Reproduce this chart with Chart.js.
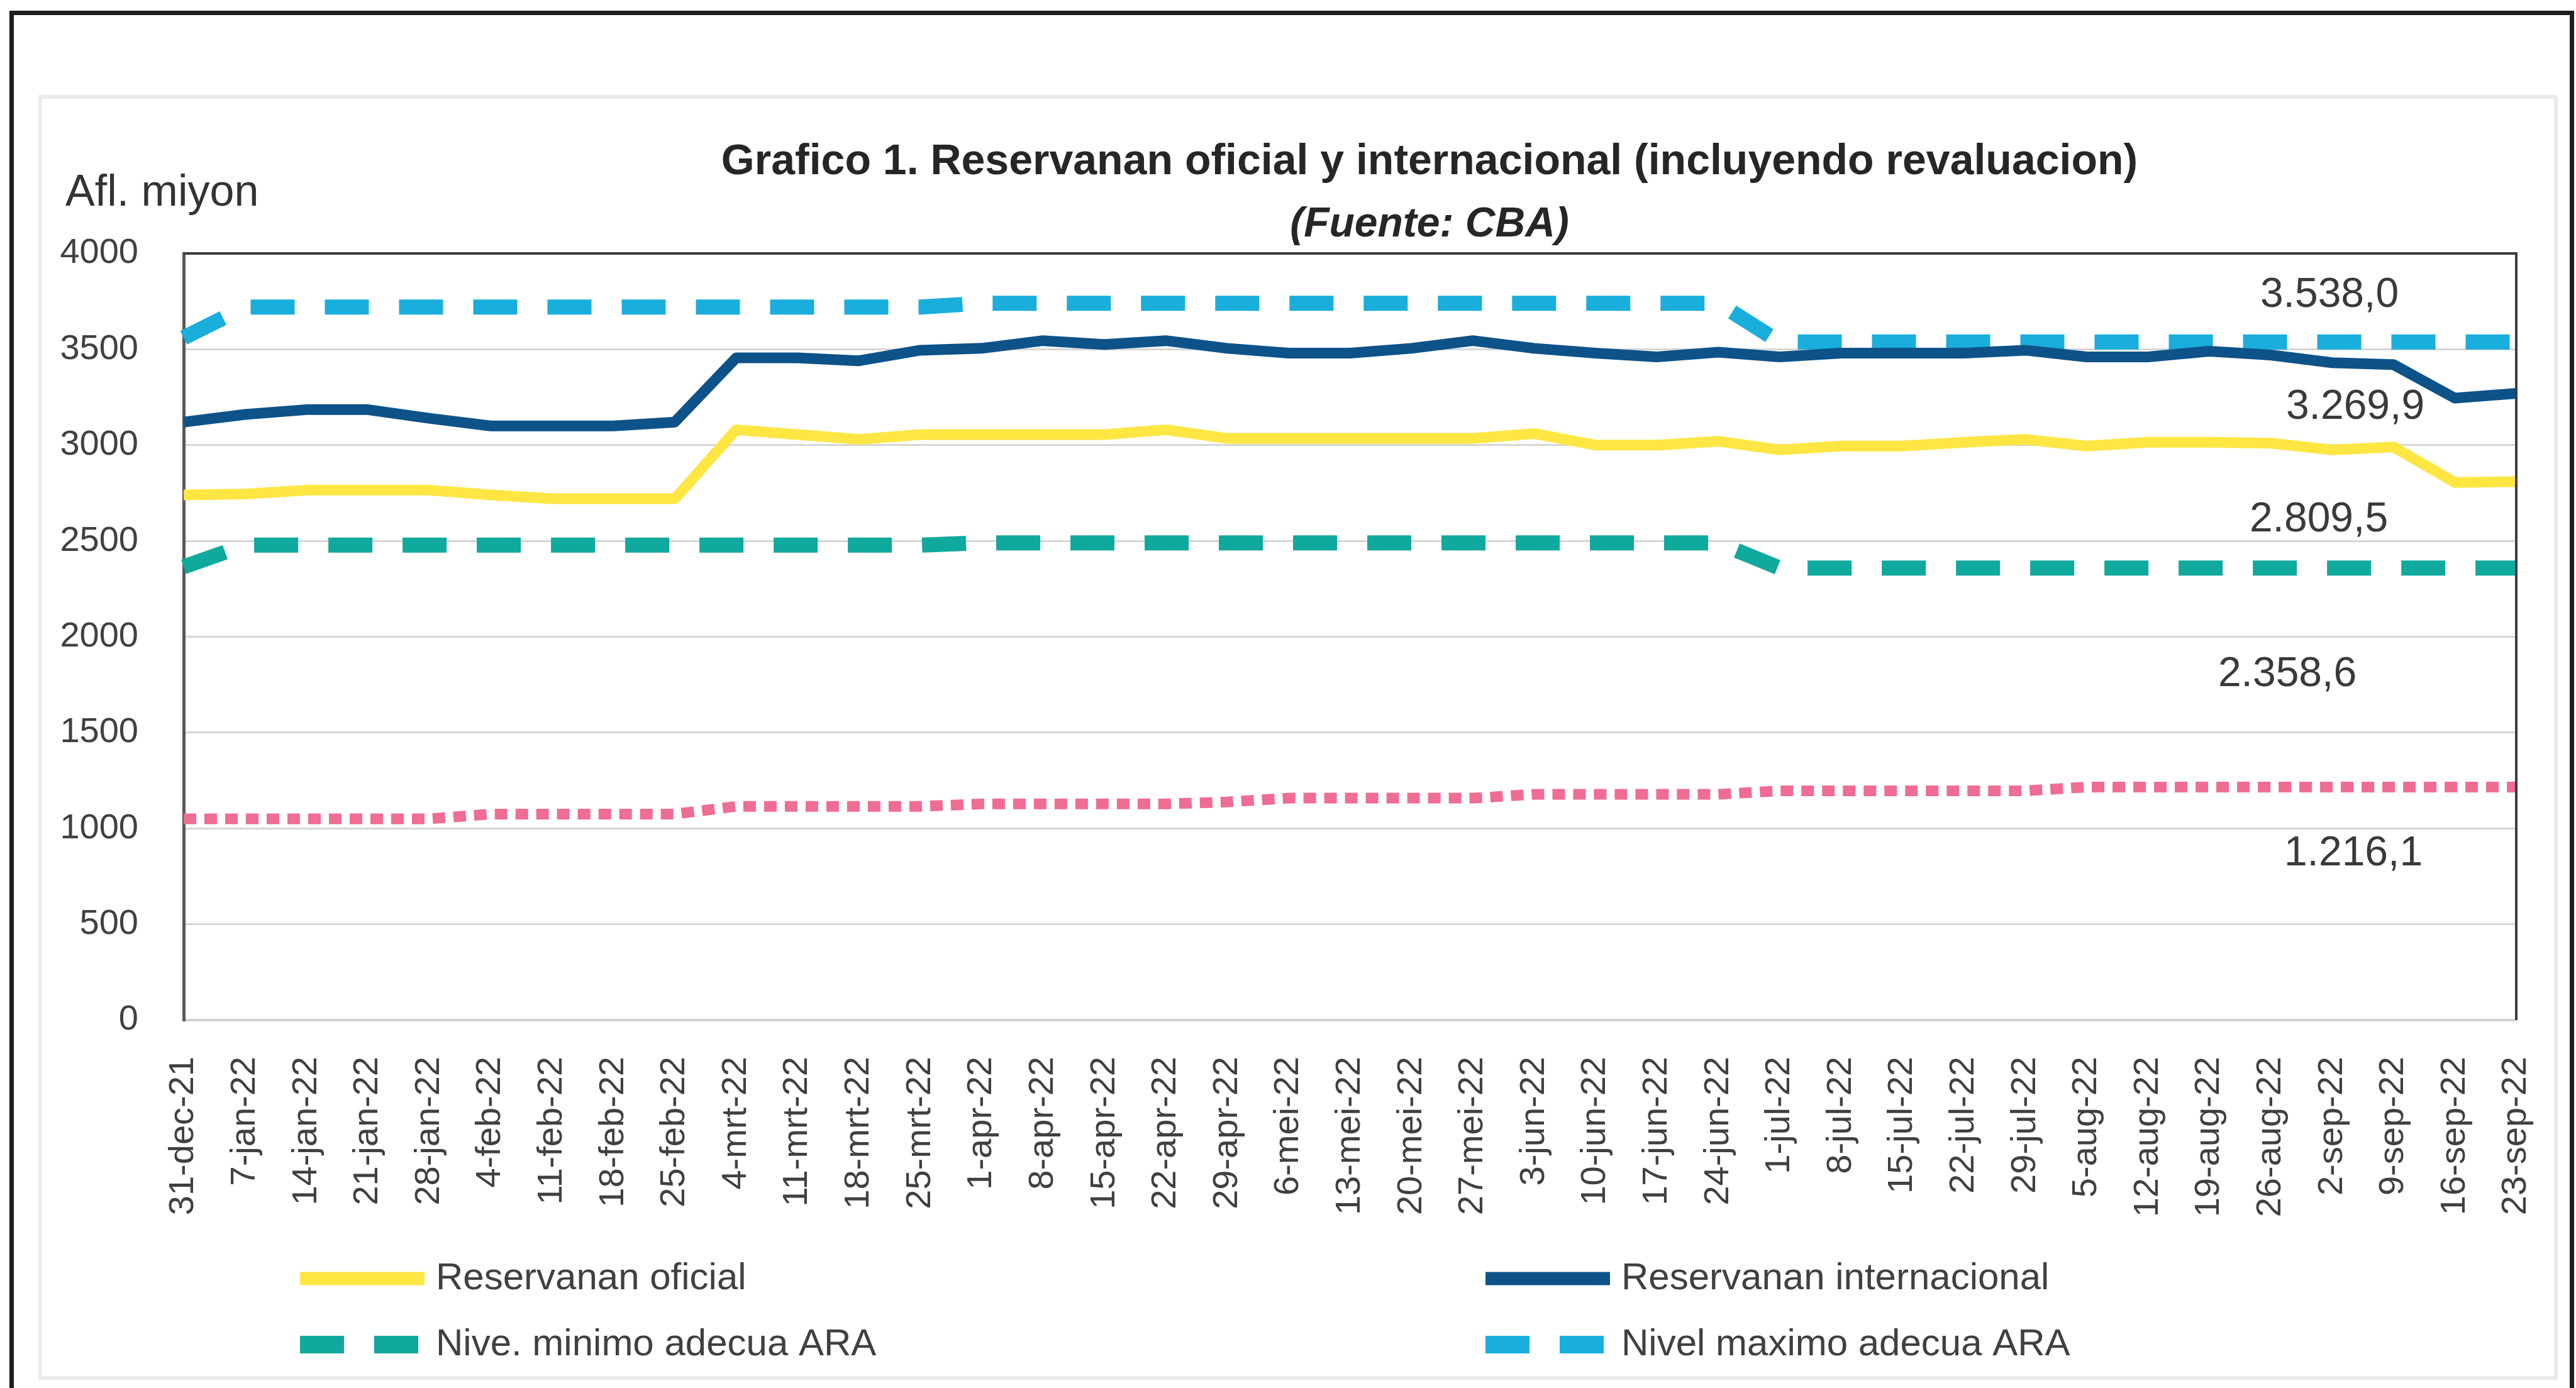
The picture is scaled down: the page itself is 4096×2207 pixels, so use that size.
<!DOCTYPE html>
<html>
<head>
<meta charset="utf-8">
<title>Reservanan oficial y internacional</title>
<script src="https://cdn.jsdelivr.net/npm/chart.js@4.4.1/dist/chart.umd.min.js"></script>
<style>
  html, body { margin: 0; padding: 0; background: #fff; overflow: hidden; }
  #wrap { position: relative; width: 4096px; height: 2207px; }
</style>
</head>
<body>
<div id="wrap"><canvas id="grafico" width="4096" height="2207"></canvas></div>
<script>
// fechas semanal
const fechas = ['31-dec-21', '7-jan-22', '14-jan-22', '21-jan-22', '28-jan-22', '4-feb-22', '11-feb-22',
  '18-feb-22', '25-feb-22', '4-mrt-22', '11-mrt-22', '18-mrt-22', '25-mrt-22', '1-apr-22', '8-apr-22',
  '15-apr-22', '22-apr-22', '29-apr-22', '6-mei-22', '13-mei-22', '20-mei-22', '27-mei-22', '3-jun-22',
  '10-jun-22', '17-jun-22', '24-jun-22', '1-jul-22', '8-jul-22', '15-jul-22', '22-jul-22', '29-jul-22',
  '5-aug-22', '12-aug-22', '19-aug-22', '26-aug-22', '2-sep-22', '9-sep-22', '16-sep-22', '23-sep-22'];

const reservaOficial = [2740, 2745, 2765, 2765, 2765, 2740, 2720, 2720, 2720, 3080, 3055, 3030, 3055,
  3055, 3055, 3055, 3080, 3035, 3035, 3035, 3035, 3035, 3060, 3000, 3000, 3020, 2975, 2995, 2995,
  3015, 3030, 2995, 3015, 3015, 3010, 2975, 2990, 2805, 2809.5];

const reservaInternacional = [3120, 3160, 3185, 3185, 3140, 3100, 3100, 3100, 3120, 3455, 3455, 3440, 3495,
  3505, 3545, 3525, 3545, 3505, 3480, 3480, 3505, 3545, 3505, 3480, 3460, 3485, 3460, 3480, 3480,
  3480, 3495, 3460, 3460, 3490, 3470, 3430, 3420, 3245, 3269.9];

const nivelMinimoARA = [2365, 2478, 2478, 2478, 2478, 2478, 2478, 2478, 2478, 2478, 2478, 2478, 2478,
  2490, 2490, 2490, 2490, 2490, 2490, 2490, 2490, 2490, 2490, 2490, 2490, 2490, 2358.6, 2358.6, 2358.6,
  2358.6, 2358.6, 2358.6, 2358.6, 2358.6, 2358.6, 2358.6, 2358.6, 2358.6, 2358.6];

const nivelMaximoARA = [3560, 3720, 3720, 3720, 3720, 3720, 3720, 3720, 3720, 3720, 3720, 3720, 3720,
  3740, 3740, 3740, 3740, 3740, 3740, 3740, 3740, 3740, 3740, 3740, 3740, 3740, 3538.0, 3538.0, 3538.0,
  3538.0, 3538.0, 3538.0, 3538.0, 3538.0, 3538.0, 3538.0, 3538.0, 3538.0, 3538.0];

// serie rosa sin leyenda
const nivelImport = [1050, 1050, 1050, 1050, 1050, 1075, 1075, 1075, 1075, 1115, 1115, 1115, 1115,
  1128, 1128, 1128, 1128, 1138, 1158, 1158, 1158, 1158, 1178, 1178, 1178, 1178, 1196, 1196, 1196,
  1196, 1196, 1216.1, 1216.1, 1216.1, 1216.1, 1216.1, 1216.1, 1216.1, 1216.1];

const FONT = '"Liberation Sans", Arial, sans-serif';

function formatNl(v) {
  const partes = v.toFixed(1).split('.');
  return partes[0].replace(/\B(?=(\d{3})+(?!\d))/g, '.') + ',' + partes[1];
}

// marco de la imagen y panel
const marco = {
  id: 'marco',
  beforeDraw(chart) {
    const ctx = chart.ctx;
    ctx.save();
    ctx.fillStyle = '#ffffff';
    ctx.fillRect(0, 0, chart.width, chart.height);
    ctx.strokeStyle = '#ebebeb';
    ctx.lineWidth = 6;
    ctx.strokeRect(64, 154, 4000, 2037);
    ctx.strokeStyle = '#1e1e1e';
    ctx.lineWidth = 7;
    ctx.beginPath();
    ctx.moveTo(18.5, chart.height);
    ctx.lineTo(18.5, 20.5);
    ctx.lineTo(4089.5, 20.5);
    ctx.lineTo(4089.5, chart.height);
    ctx.stroke();
    ctx.restore();
  }
};

// titulo, unidad, etiquetas finales, leyenda
const textos = {
  id: 'textos',
  afterDatasetsDraw(chart) {
    const ctx = chart.ctx;
    ctx.save();
    ctx.font = '66px ' + FONT;
    ctx.fillStyle = '#3a3a3a';
    ctx.textAlign = 'center';
    ctx.textBaseline = 'middle';
    chart.data.datasets.forEach((ds, i) => {
      if (!ds.etiqueta) return;
      const pts = chart.getDatasetMeta(i).data;
      const p = pts[pts.length - 1];
      ctx.fillText(formatNl(ds.data[ds.data.length - 1]), p.x + ds.etiqueta[0], p.y + ds.etiqueta[1]);
    });
    ctx.restore();
  },
  afterDraw(chart) {
    const ctx = chart.ctx;
    const area = chart.chartArea;
    ctx.save();
    // borde superior y derecho del area
    ctx.strokeStyle = '#3c3c3c';
    ctx.lineWidth = 4;
    ctx.beginPath();
    ctx.moveTo(area.left, area.top);
    ctx.lineTo(area.right, area.top);
    ctx.lineTo(area.right, area.bottom);
    ctx.stroke();

    ctx.fillStyle = '#262626';
    ctx.textAlign = 'center';
    ctx.textBaseline = 'middle';
    ctx.font = 'bold 68px ' + FONT;
    ctx.fillText('Grafico 1. Reservanan oficial y internacional (incluyendo revaluacion)', 2273, 258);
    ctx.font = 'italic bold 66px ' + FONT;
    ctx.fillText('(Fuente: CBA)', 2273, 358);
    ctx.textAlign = 'left';
    ctx.fillStyle = '#333333';
    ctx.font = '70px ' + FONT;
    ctx.fillText('Afl. miyon', 104, 308);

    // leyenda 2 x 2
    const colX = [477, 2362], filaY = [2033, 2138];
    ctx.font = '60px ' + FONT;
    ctx.fillStyle = '#404040';
    let k = 0;
    chart.data.datasets.forEach(ds => {
      if (ds.sinLeyenda) return;
      const x = colX[k % 2], y = filaY[Math.floor(k / 2)];
      ctx.save();
      ctx.strokeStyle = ds.borderColor;
      ctx.lineWidth = ds.borderWidth + 4;
      ctx.setLineDash(ds.borderDash || []);
      ctx.beginPath();
      ctx.moveTo(x, y);
      ctx.lineTo(x + 198, y);
      ctx.stroke();
      ctx.restore();
      ctx.fillText(ds.label, x + 216, y);
      k++;
    });
    ctx.restore();
  }
};

new Chart(document.getElementById('grafico'), {
  type: 'line',
  data: {
    labels: fechas,
    datasets: [
      {
        label: 'Reservanan oficial',
        data: reservaOficial,
        borderColor: '#ffe643',
        borderWidth: 17,
        etiqueta: [-314, 61]
      },
      {
        label: 'Reservanan internacional',
        data: reservaInternacional,
        borderColor: '#0d5289',
        borderWidth: 17,
        etiqueta: [-256, 22]
      },
      {
        label: 'Nive. minimo adecua ARA',
        data: nivelMinimoARA,
        borderColor: '#10a99d',
        borderWidth: 24,
        borderDash: [70, 48],
        etiqueta: [-364, 170]
      },
      {
        label: 'Nivel maximo adecua ARA',
        data: nivelMaximoARA,
        borderColor: '#19aedb',
        borderWidth: 24,
        borderDash: [70, 48],
        etiqueta: [-297, -74]
      },
      {
        label: 'Nivel import',
        data: nivelImport,
        borderColor: '#ef6c93',
        borderWidth: 17,
        borderDash: [20, 13],
        sinLeyenda: true,
        etiqueta: [-259, 106]
      }
    ]
  },
  options: {
    responsive: false,
    animation: false,
    devicePixelRatio: 1,
    layout: { padding: { left: 0, top: 403, right: 95, bottom: 0 } },
    elements: {
      point: { radius: 0 },
      line: { tension: 0, borderCapStyle: 'butt', borderJoinStyle: 'round', fill: false }
    },
    plugins: {
      legend: { display: false },
      title: { display: false },
      tooltip: { enabled: false }
    },
    scales: {
      x: {
        offset: false,
        grid: { display: false, drawTicks: false },
        border: { display: true, color: '#d2d2d2', width: 4 },
        ticks: {
          autoSkip: false,
          maxRotation: 90,
          minRotation: 90,
          padding: 58,
          color: '#404040',
          font: { family: FONT, size: 56 }
        },
        afterFit(axis) {
          axis.height = 585;
          axis.paddingLeft = 0;
          axis.paddingRight = 0;
        }
      },
      y: {
        min: 0,
        max: 4000,
        ticks: {
          stepSize: 500,
          padding: 72,
          color: '#404040',
          font: { family: FONT, size: 56 },
          callback: v => String(v)
        },
        grid: { color: '#d6d6d6', lineWidth: 3, drawTicks: false },
        border: { color: '#595959', width: 5 },
        afterFit(axis) { axis.width = 292; }
      }
    }
  },
  plugins: [marco, textos]
});
</script>
</body>
</html>
